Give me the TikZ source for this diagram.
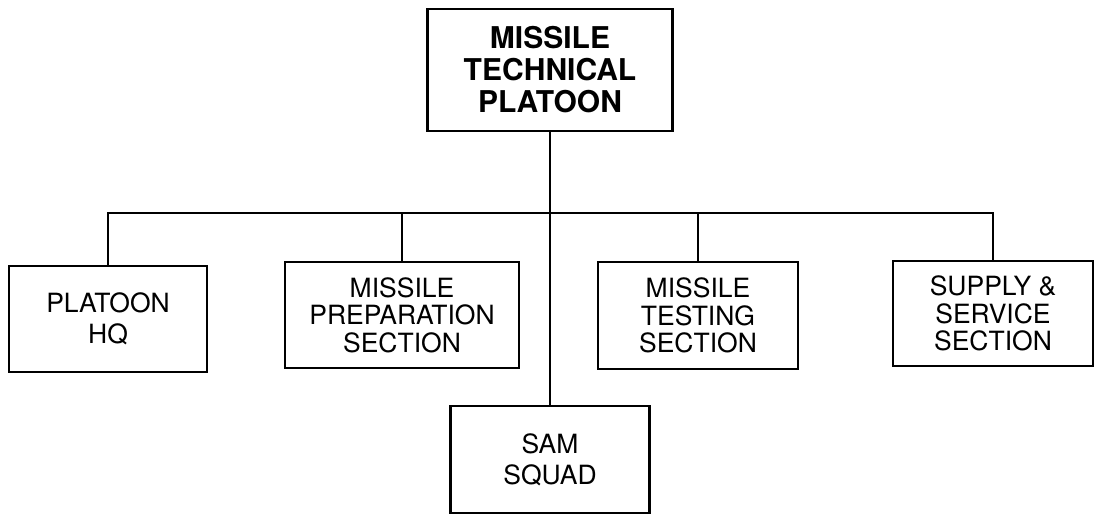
\documentclass[tikz,border=0pt]{standalone}
\usepackage{fontspec}
\setmainfont{TeX Gyre Heros}
\usepackage{tikz}
\usetikzlibrary{positioning, calc}

\tikzset{
  unitbox/.style={draw, line width=2.6pt, align=center, inner sep=0pt,
    font=\fontsize{26.5}{27.5}\selectfont},
  hqbox/.style={unitbox, line width=2.8pt,
    font=\fontsize{30}{32}\selectfont\bfseries},
  link/.style={line width=2pt}
}

\begin{document}
\begin{tikzpicture}[x=1pt, y=-1pt]
  \useasboundingbox (0,0) rectangle (1095,517);
  % headquarters
  \node[hqbox, minimum width=245pt, minimum height=122pt] (platoon) at (550,70)
    {MISSILE\\TECHNICAL\\PLATOON};
  % sections
  \node[unitbox, minimum width=198pt, minimum height=106pt] (hq) at (108,319)
    {PLATOON\\[3.5pt]HQ};
  \node[unitbox, minimum width=234pt, minimum height=106pt] (prep) at (402,315)
    {MISSILE\\PREPARATION\\SECTION};
  \node[unitbox, minimum width=200pt, minimum height=107pt] (test) at (698,315.5)
    {MISSILE\\TESTING\\SECTION};
  \node[unitbox, minimum width=200pt, minimum height=105pt] (supply) at (993,313.5)
    {SUPPLY \&\\SERVICE\\SECTION};
  \node[unitbox, minimum width=199pt, minimum height=107pt] (sam) at (550,459.5)
    {SAM\\[3.5pt]SQUAD};
  % connectors
  \coordinate (bus) at (550,213);
  \draw[link] (platoon.south) -- (sam.north);
  \draw[link] (hq.north) -- (hq.north |- bus) -- (supply.north |- bus) -- (supply.north);
  \draw[link] (prep.north) -- (prep.north |- bus);
  \draw[link] (test.north) -- (test.north |- bus);
\end{tikzpicture}
\end{document}
